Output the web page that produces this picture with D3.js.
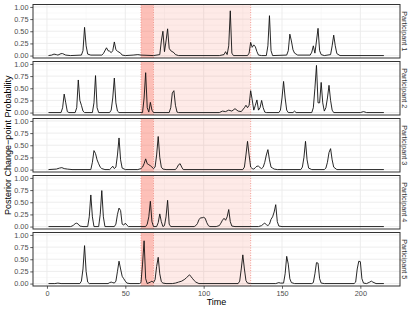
<!DOCTYPE html>
<html><head><meta charset="utf-8">
<script src="https://cdn.jsdelivr.net/npm/d3@7"></script>
<style>body{margin:0;background:#fff}svg{display:block}text{font-family:"Liberation Sans",Arial,sans-serif}</style>
</head><body><svg id="c" width="415" height="312"></svg>
<script>
const participants = ["Participant 1","Participant 2","Participant 3","Participant 4","Participant 5"];
const xTicks = [0,50,100,150,200];
const yTicks = [0,0.25,0.5,0.75,1];
const yTickLabels = ["0.00","0.25","0.50","0.75","1.00"];
const darkWindow = [60,68];
const lightWindow = [68,130];

const p1 = [[1,0],[3,0.01],[4.5,0.03],[6,0.02],[7,0.01],[9,0.04],[10,0.04],[12,0.01],[15,0],[22,0.01],[23,0.1],[24,0.58],[25,0.2],[26,0.03],[28,0.01],[35,0.01],[36,0.04],[38,0.16],[39,0.1],[40,0.09],[41,0.06],[42,0.1],[43,0.28],[44,0.12],[45,0.09],[47,0.05],[48,0.01],[50,0],[55,0.01],[58,0.02],[60,0.01],[68,0],[72,0.02],[73,0.3],[74,0.5],[75,0.08],[76,0.3],[77,0.55],[78,0.15],[79,0.1],[81,0.06],[82,0.02],[84,0],[110,0],[113,0.02],[114,0.08],[115,0.02],[116,0.2],[117,0.92],[118,0.05],[119,0],[128,0],[129,0.05],[130,0.27],[131,0.17],[132,0.22],[133,0.18],[134,0.08],[135,0.01],[137,0],[140,0],[141,0.2],[142,0.82],[143,0.1],[144,0],[153,0.01],[154,0.1],[155,0.44],[156,0.3],[157,0.12],[158,0.05],[160,0.01],[168,0.01],[169,0.07],[170,0.2],[171,0.05],[172,0.3],[173,0.56],[174,0.1],[175,0.02],[177,0],[181,0.02],[182,0.2],[183,0.42],[184,0.2],[185,0.04],[187,0],[215,0]];
const p2 = [[1,0],[9,0],[10,0.1],[11,0.38],[12,0.2],[13,0.02],[14,0],[18,0],[19,0.1],[20,0.67],[21,0.25],[22,0.15],[23,0.03],[24,0],[29,0],[30,0.2],[31,0.76],[32,0.1],[33,0],[40,0],[41,0.05],[42,0.3],[43,0.71],[44,0.2],[45,0.03],[46,0],[61,0],[62,0.3],[63,0.82],[64,0.1],[65,0.01],[66,0.21],[67,0.05],[68,0],[78,0],[79,0.1],[80,0.4],[81,0.45],[82,0.15],[83,0.01],[84,0],[110,0],[112,0.03],[114,0.02],[116,0.05],[118,0.03],[120,0.08],[122,0.03],[124,0.02],[126,0.1],[127,0.15],[128,0.1],[129,0.15],[130,0.45],[131,0.26],[132,0.05],[133,0.15],[134,0.26],[135,0.05],[136,0.1],[137,0.25],[138,0.1],[139,0.01],[140,0],[148,0],[149,0.05],[150,0.3],[151,0.64],[152,0.3],[153,0.05],[154,0],[157,0],[158,0.03],[159,0],[169,0],[170,0.1],[171,0.5],[172,0.97],[173,0.2],[174,0.2],[175,0.62],[176,0.2],[177,0.03],[178,0.1],[179,0.3],[180,0.56],[181,0.25],[182,0.05],[183,0],[200,0],[202,0.02],[204,0],[215,0]];
const p3 = [[1,0],[6,0.01],[8,0.03],[9.5,0.04],[11,0.02],[13,0.01],[16,0],[28,0],[29,0.15],[30,0.39],[31,0.33],[32,0.2],[33,0.12],[34,0.05],[35,0.02],[37,0],[40,0],[41,0.03],[42,0.07],[43,0.02],[44,0.05],[45,0.3],[46,0.65],[47,0.2],[48,0.03],[50,0],[58,0],[60,0.02],[61,0.05],[62,0.12],[63,0.22],[64,0.12],[65,0.1],[66,0.08],[67,0.05],[68,0.02],[69,0.05],[70,0.3],[71,0.68],[72,0.25],[73,0.05],[74,0.01],[76,0],[82,0],[83,0.04],[84,0.1],[85,0.12],[86,0.05],[87,0],[125,0],[126,0.05],[127,0.3],[128,0.58],[129,0.3],[130,0.05],[131,0.02],[132,0.01],[133,0.04],[134,0.07],[135,0.07],[136,0.04],[137,0.02],[138,0.05],[139,0.15],[140,0.3],[141,0.41],[142,0.2],[143,0.05],[144,0.03],[145,0.01],[147,0],[162,0],[163,0.05],[164,0.25],[165,0.58],[166,0.2],[167,0.03],[169,0],[177,0],[178,0.03],[179,0.15],[180,0.35],[181,0.43],[182,0.2],[183,0.05],[185,0],[215,0]];
const p4 = [[1,0],[15,0],[16,0.01],[17,0.03],[18,0.06],[19,0.07],[20,0.05],[21,0.01],[23,0],[26,0],[27,0.2],[28,0.65],[29,0.2],[30,0],[33,0],[34,0.25],[35,0.74],[36,0.2],[37,0],[43,0],[44,0.05],[45,0.25],[46,0.38],[47,0.33],[48,0.05],[49,0.03],[50,0.07],[51,0.03],[52,0],[63,0],[64,0.05],[65,0.2],[66,0.52],[67,0.1],[68,0],[70,0],[71,0.08],[72,0.26],[73,0.1],[74,0],[75,0.02],[76,0.2],[77,0.54],[78,0.05],[79,0],[94,0],[95,0.02],[96,0.06],[97,0.14],[98,0.18],[99,0.18],[100,0.19],[101,0.17],[102,0.08],[103,0.02],[104,0],[108,0],[110,0.02],[111,0.07],[112,0.13],[113,0.17],[114,0.13],[115,0.2],[116,0.35],[117,0.1],[118,0.01],[120,0],[135,0],[137,0.02],[138,0.05],[139,0.07],[140,0.04],[141,0.02],[142,0.05],[143,0.15],[144,0.2],[145,0.3],[146,0.45],[147,0.1],[148,0.01],[150,0],[215,0]];
const p5 = [[1,0],[5,0],[7,0.01],[9,0],[21,0],[22,0.05],[23,0.3],[24,0.78],[25,0.25],[26,0.03],[27,0],[39,0],[40,0.02],[41,0.03],[42,0.02],[43,0.01],[44,0.05],[45,0.25],[46,0.46],[47,0.3],[48,0.15],[49,0.1],[50,0.05],[51,0.01],[53,0],[59,0],[60,0.02],[61,0.4],[62,0.88],[63,0.1],[64,0],[66,0.03],[67,0.05],[68,0.02],[69,0.08],[70,0.35],[71,0.54],[72,0.2],[73,0.04],[74,0.01],[76,0],[80,0],[82,0.01],[84,0.03],[86,0.05],[88,0.09],[89,0.12],[90,0.15],[91,0.18],[92,0.14],[93,0.1],[94,0.06],[95,0.03],[97,0],[122,0],[123,0.05],[124,0.3],[125,0.59],[126,0.3],[127,0.06],[128,0.01],[130,0],[146,0],[148,0.02],[149,0.01],[151,0.01],[152,0.2],[153,0.56],[154,0.4],[155,0.1],[156,0.02],[158,0],[169,0],[170,0.02],[171,0.2],[172,0.43],[173,0.42],[174,0.1],[175,0.01],[177,0],[196,0],[197,0.03],[198,0.3],[199,0.46],[200,0.45],[201,0.1],[202,0.01],[204,0],[206,0.03],[207,0.05],[208,0.03],[210,0],[215,0]];
const series = [p1,p2,p3,p4,p5];

const svg = d3.select("#c");
const L = 33, R = 400, top0 = 4.5, ph = 53.5, gap = 3.5;
const x = d3.scaleLinear().domain([-8.9, 225.3]).range([L, R]);
const xMinor = [25,75,125,175];
const yMinor = [0.125,0.375,0.625,0.875];

participants.forEach((name, i) => {
  const t = top0 + i*(ph+gap), b = t + ph;
  const y = d3.scaleLinear().domain([-0.05, 1.05]).range([b, t]);
  const g = svg.append("g");
  g.append("rect").attr("x",L).attr("y",t).attr("width",R-L).attr("height",ph).attr("fill","#fff");
  // grid
  g.selectAll(".ym").data(yMinor).join("line").attr("x1",L).attr("x2",R).attr("y1",d=>y(d)).attr("y2",d=>y(d)).attr("stroke","#f2f2f2").attr("stroke-width",0.5);
  g.selectAll(".xm").data(xMinor).join("line").attr("y1",t).attr("y2",b).attr("x1",d=>x(d)).attr("x2",d=>x(d)).attr("stroke","#f2f2f2").attr("stroke-width",0.5);
  g.selectAll(".yM").data(yTicks).join("line").attr("x1",L).attr("x2",R).attr("y1",d=>y(d)).attr("y2",d=>y(d)).attr("stroke","#ebebeb").attr("stroke-width",0.9);
  g.selectAll(".xM").data(xTicks).join("line").attr("y1",t).attr("y2",b).attr("x1",d=>x(d)).attr("x2",d=>x(d)).attr("stroke","#ebebeb").attr("stroke-width",0.9);
  // shaded windows
  g.append("rect").attr("x",x(darkWindow[0])).attr("width",x(darkWindow[1])-x(darkWindow[0])).attr("y",t).attr("height",ph).attr("fill","#fa6a55").attr("fill-opacity",0.42);
  g.append("rect").attr("x",x(lightWindow[0])).attr("width",x(lightWindow[1])-x(lightWindow[0])).attr("y",t).attr("height",ph).attr("fill","#fa6a55").attr("fill-opacity",0.14);
  [darkWindow[0], darkWindow[1], lightWindow[1]].forEach(v => {
    g.append("line").attr("x1",x(v)).attr("x2",x(v)).attr("y1",t).attr("y2",b).attr("stroke","#f08a80").attr("stroke-width",0.8).attr("stroke-dasharray","1,1.5");
  });
  // line
  const line = d3.line().x(d=>x(d[0])).y(d=>y(d[1]));
  g.append("path").datum(series[i]).attr("d",line).attr("fill","none").attr("stroke","#111").attr("stroke-width",0.9).attr("stroke-linejoin","round");
  // border
  g.append("rect").attr("x",L).attr("y",t).attr("width",R-L).attr("height",ph).attr("fill","none").attr("stroke","#333").attr("stroke-width",1);
  // y axis
  const ya = d3.axisLeft(y).tickValues(yTicks).tickFormat((d,k)=>yTickLabels[k]).tickSize(2.75).tickPadding(1.8);
  const ag = svg.append("g").attr("transform",`translate(${L},0)`).call(ya);
  ag.select(".domain").remove();
  ag.selectAll("line").attr("stroke","#333").attr("stroke-width",0.8);
  ag.selectAll("text").attr("fill","#4d4d4d").style("font-size","7.3px").style("font-family","Liberation Sans, Arial, sans-serif");
  // strip
  svg.append("text").attr("transform",`translate(404.5,${(t+b)/2}) rotate(90)`).attr("text-anchor","middle").attr("dy","0.35em").attr("fill","#333").style("font-size","7.2px").text(name);
  if (i === participants.length-1) {
    const xa = d3.axisBottom(x).tickValues(xTicks).tickSize(2.75).tickPadding(1.8);
    const xg = svg.append("g").attr("transform",`translate(0,${b})`).call(xa);
    xg.select(".domain").remove();
    xg.selectAll("line").attr("stroke","#333").attr("stroke-width",0.8);
    xg.selectAll("text").attr("fill","#4d4d4d").style("font-size","7.3px").style("font-family","Liberation Sans, Arial, sans-serif");
  }
});
const bottom = top0 + 5*ph + 4*gap;
svg.append("text").attr("x",(L+R)/2).attr("y",305).attr("text-anchor","middle").attr("fill","#000").style("font-size","9px").text("Time");
svg.append("text").attr("transform",`translate(10.5,${(top0+bottom)/2}) rotate(-90)`).attr("text-anchor","middle").attr("fill","#000").style("font-size","9px").text("Posterior Change\u2212point Probability");
</script></body></html>
